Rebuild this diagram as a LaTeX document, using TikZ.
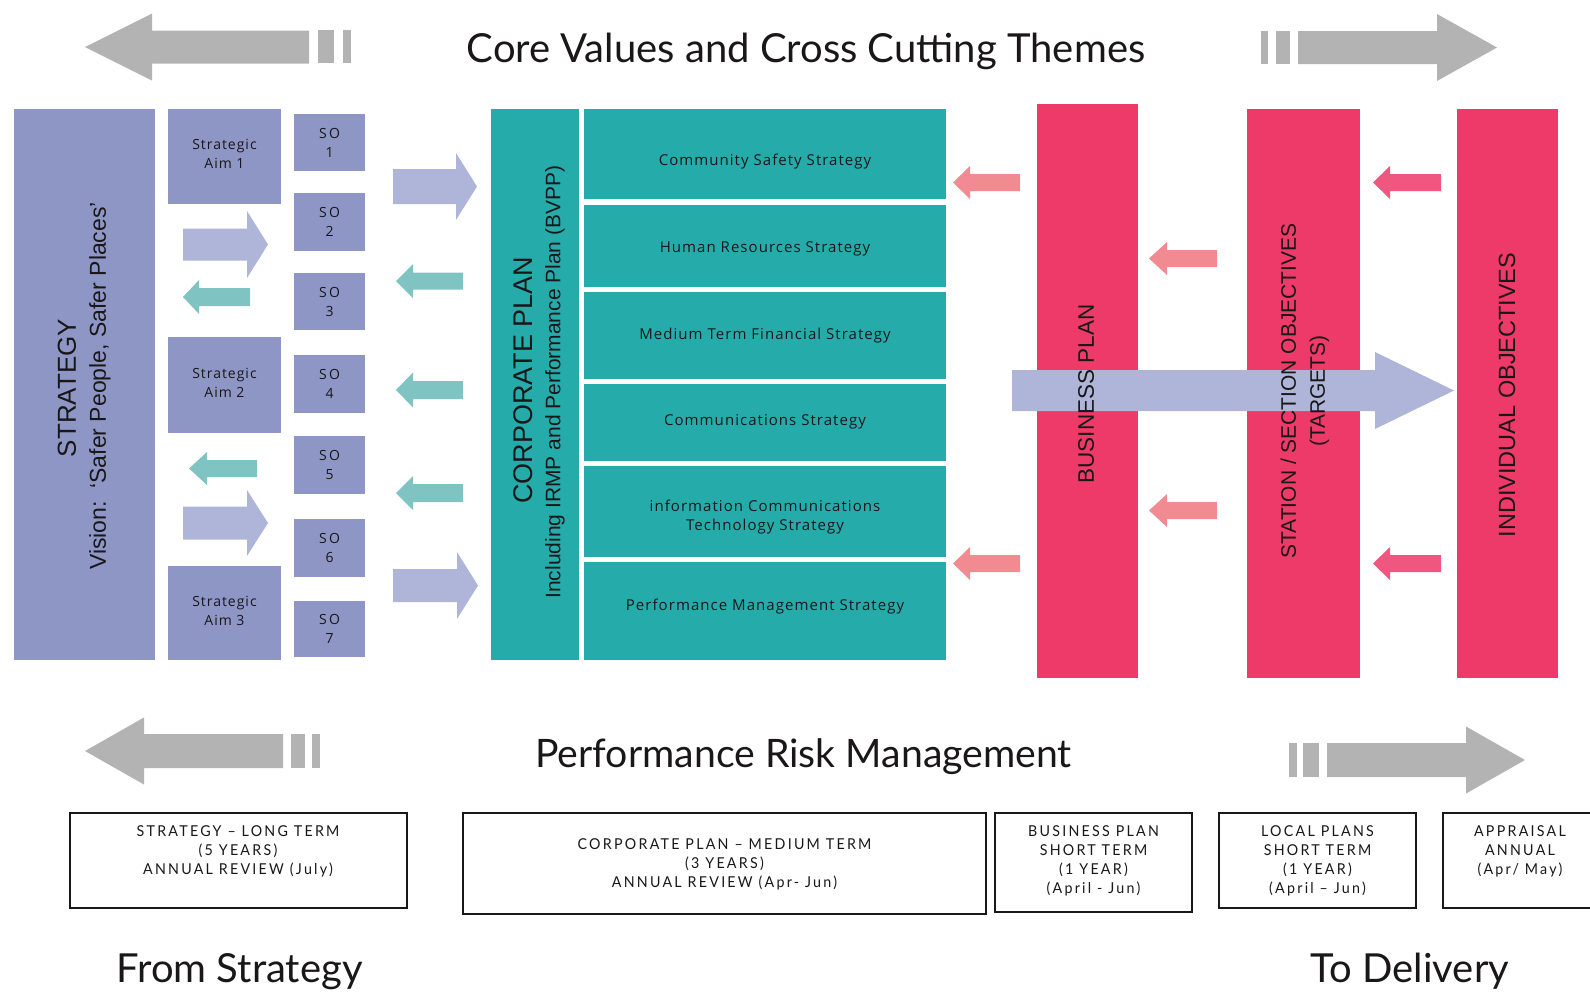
\documentclass[tikz,border=0pt]{standalone}
\usepackage{fontspec}
\setmainfont{Lato}
\newfontfamily\headfont{Lato}
\newfontfamily\labfont[LetterSpace=7]{Open Sans}
\newfontfamily\rotfont{Liberation Sans}
\newfontfamily\termfont[FakeStretch=0.95,LetterSpace=15]{Lato}

\definecolor{stratpurple}{HTML}{8E96C6}
\definecolor{lavender}{HTML}{AEB5D8}
\definecolor{tealbox}{HTML}{26ABAB}
\definecolor{tealarrow}{HTML}{80C3C3}
\definecolor{planred}{HTML}{EE3A68}
\definecolor{pinkarrow}{HTML}{F28B91}
\definecolor{deeppink}{HTML}{EF5780}
\definecolor{greyarrow}{HTML}{B3B3B3}
\definecolor{ink}{HTML}{1A1718}

% block arrow pointing right: style, shaft start, head base, tip, centre y, shaft half height, head half height
\newcommand\blockright[7]{%
  \fill[#1] (#2,#5-#6) -- (#3,#5-#6) -- (#3,#5-#7) -- (#4,#5) -- (#3,#5+#7) -- (#3,#5+#6) -- (#2,#5+#6) -- cycle;}
% block arrow pointing left: style, tip, head base, shaft end, centre y, shaft half height, head half height
\newcommand\blockleft[7]{%
  \fill[#1] (#2,#5) -- (#3,#5-#7) -- (#3,#5-#6) -- (#4,#5-#6) -- (#4,#5+#6) -- (#3,#5+#6) -- (#3,#5+#7) -- cycle;}

\tikzset{
  panel/.style={anchor=north west, inner sep=0pt, outer sep=0pt},
  purplebox/.style={panel, fill=stratpurple, text=ink, align=center,
    font=\labfont\fontsize{14}{19}\selectfont},
  purpletext/.style={text=ink, align=center, inner sep=0pt,
    font=\labfont\fontsize{14}{19}\selectfont},
  tealpanel/.style={panel, fill=tealbox},
  tealtext/.style={text=ink, align=center, inner sep=0pt,
    font=\labfont\fontsize{15}{19}\selectfont},
  redpanel/.style={panel, fill=planred},
  vlabel/.style={rotate=90, text=ink, align=center, inner sep=0pt},
  termbox/.style={panel, draw=ink, line width=1.6pt, fill=white},
  termtext/.style={align=center, text=ink, inner sep=0pt,
    font=\termfont\fontsize{15}{19}\selectfont},
  headline/.style={anchor=base, text=ink, inner sep=0pt,
    font=\headfont\fontsize{40}{44}\selectfont},
}

\begin{document}
\begin{tikzpicture}[x=1pt,y=-1pt]
\useasboundingbox (0,0) rectangle (1590,991);

% ---- top banner ----
\node[headline] (corevalues) at (806,62) {Core Values and Cross Cutting Themes};
\blockleft{greyarrow}{85}{152}{309}{47}{16.5}{33.5}
\fill[greyarrow] (318,30) rectangle (334,63);
\fill[greyarrow] (343,30) rectangle (351,63);
\fill[greyarrow] (1261,31) rectangle (1268,64);
\fill[greyarrow] (1276,31) rectangle (1290,64);
\blockright{greyarrow}{1298}{1437}{1497}{47.5}{16.5}{33.5}

% ---- strategy column ----
\node[purplebox, minimum width=141pt, minimum height=551pt] (strategy) at (14,109) {};
\node[vlabel, font=\rotfont\fontsize{26}{28}\selectfont] (strategylabel) at (67,388) {STRATEGY};
\node[vlabel, font=\rotfont\fontsize{23}{26}\selectfont] (vision) at (100,386) {Vision:\ \ ‘Safer People, Safer Places’};

\node[purplebox, minimum width=113pt, minimum height=95pt] (aim1) at (168,109) {};
\node[purplebox, minimum width=113pt, minimum height=96pt] (aim2) at (168,337) {};
\node[purplebox, minimum width=113pt, minimum height=94pt] (aim3) at (168,566) {};
\node[purpletext] (aim1text) at (224.5,153.5) {Strategic\\Aim 1};
\node[purpletext] (aim2text) at (224.5,382.5) {Strategic\\Aim 2};
\node[purpletext] (aim3text) at (224.5,610.5) {Strategic\\Aim 3};

\node[purplebox, minimum width=71pt, minimum height=57pt] (so1) at (294,114) {S\,O\\1};
\node[purplebox, minimum width=71pt, minimum height=58pt] (so2) at (294,193) {S\,O\\2};
\node[purplebox, minimum width=71pt, minimum height=57pt] (so3) at (294,273) {S\,O\\3};
\node[purplebox, minimum width=71pt, minimum height=58pt] (so4) at (294,355) {S\,O\\4};
\node[purplebox, minimum width=71pt, minimum height=58pt] (so5) at (294,436) {S\,O\\5};
\node[purplebox, minimum width=71pt, minimum height=58pt] (so6) at (294,519) {S\,O\\6};
\node[purplebox, minimum width=71pt, minimum height=56pt] (so7) at (294,601) {S\,O\\7};

% arrows between aims and objectives
\blockright{lavender}{183}{247}{268}{244.5}{16}{33.5}
\blockleft{tealarrow}{183}{199}{250}{297}{9}{17}
\blockleft{tealarrow}{189}{207}{257}{468.5}{8.5}{16.5}
\blockright{lavender}{183}{247}{268}{523}{16.5}{33}

% arrows between objectives and corporate plan
\blockright{lavender}{393}{456}{477}{186.5}{17.5}{33.5}
\blockleft{tealarrow}{396}{413}{463}{281}{8.5}{17}
\blockleft{tealarrow}{396}{413}{463}{390}{9}{17.5}
\blockleft{tealarrow}{396}{413}{463}{493}{9}{17}
\blockright{lavender}{393}{457}{478}{585.5}{16.5}{33.5}

% ---- corporate plan ----
\node[tealpanel, minimum width=88pt, minimum height=551pt] (corporate) at (491,109) {};
\node[vlabel, font=\rotfont\fontsize{27}{29}\selectfont] (corporatelabel) at (523,380) {CORPORATE PLAN};
\node[vlabel, font=\rotfont\fontsize{21}{24}\selectfont] (irmp) at (555,382) {Including IRMP and Performance Plan (BVPP)};

\node[tealpanel, minimum width=362pt, minimum height=90pt] (community) at (584,109) {};
\node[tealpanel, minimum width=362pt, minimum height=82pt] (hr) at (584,205) {};
\node[tealpanel, minimum width=362pt, minimum height=87pt] (finance) at (584,292) {};
\node[tealpanel, minimum width=362pt, minimum height=77pt] (comms) at (584,384) {};
\node[tealpanel, minimum width=362pt, minimum height=91pt] (ict) at (584,466) {};
\node[tealpanel, minimum width=362pt, minimum height=98pt] (performance) at (584,562) {};
\node[tealtext] (communitytext) at (765,162) {Community Safety Strategy};
\node[tealtext] (hrtext) at (765,249) {Human Resources Strategy};
\node[tealtext] (financetext) at (765,336) {Medium Term Financial Strategy};
\node[tealtext] (commstext) at (765,421.5) {Communications Strategy};
\node[tealtext] (icttext) at (765,517) {information Communications\\Technology Strategy};
\node[tealtext] (performancetext) at (765,607) {Performance Management Strategy};

% ---- delivery columns ----
\node[redpanel, minimum width=101pt, minimum height=574pt] (business) at (1037,104) {};
\node[redpanel, minimum width=113pt, minimum height=569pt] (station) at (1247,109) {};
\node[redpanel, minimum width=101pt, minimum height=569pt] (individual) at (1457,109) {};

\blockleft{pinkarrow}{953}{970}{1020}{182.5}{8.5}{16.5}
\blockleft{pinkarrow}{953}{970}{1020}{563.5}{8.5}{16.5}
\blockleft{pinkarrow}{1149}{1167}{1217}{258.5}{8.5}{16.5}
\blockleft{pinkarrow}{1149}{1167}{1217}{510.5}{8.5}{16.5}
\blockleft{deeppink}{1373}{1390}{1441}{182.5}{8.5}{16.5}
\blockleft{deeppink}{1373}{1390}{1441}{563.5}{8.5}{16.5}

\blockright{lavender}{1012}{1375}{1454}{390.5}{20.5}{38.5}

\node[vlabel, font=\rotfont\fontsize{22.5}{25}\selectfont] (businesslabel) at (1086,394) {BUSINESS PLAN};
\node[vlabel, font=\rotfont\fontsize{21}{29}\selectfont] (stationlabel) at (1305,391) {STATION / SECTION OBJECTIVES\\(TARGETS)};
\node[vlabel, font=\rotfont\fontsize{23.5}{26}\selectfont] (individuallabel) at (1507,395) {INDIVIDUAL OBJECTIVES};

% ---- risk management banner ----
\node[headline, font=\headfont\fontsize{39.2}{44}\selectfont] (risk) at (803.5,767) {Performance Risk Management};
\blockleft{greyarrow}{85}{144}{283}{751}{17}{33.5}
\fill[greyarrow] (291,734) rectangle (305,768);
\fill[greyarrow] (312,734) rectangle (320,768);
\fill[greyarrow] (1289,743) rectangle (1297,777);
\fill[greyarrow] (1303,743) rectangle (1319,777);
\blockright{greyarrow}{1327}{1466}{1525}{760}{17}{33.5}

% ---- planning horizons ----
\node[termbox, minimum width=337pt, minimum height=95pt] (longterm) at (70,813) {};
\node[termtext] (longtermtext) at (238,851) {STRATEGY – LONG TERM\\(5 YEARS)\\ANNUAL REVIEW (July)};
\node[termbox, minimum width=523pt, minimum height=101pt] (mediumterm) at (463,813) {};
\node[termtext] (mediumtermtext) at (724.5,864) {CORPORATE PLAN – MEDIUM TERM\\(3 YEARS)\\ANNUAL REVIEW (Apr- Jun)};
\node[termbox, minimum width=197pt, minimum height=99pt] (shortterm) at (995,813) {};
\node[termtext] (shorttermtext) at (1093.5,860.5) {BUSINESS PLAN\\SHORT TERM\\(1 YEAR)\\(April - Jun)};
\node[termbox, minimum width=197pt, minimum height=95pt] (localterm) at (1219,813) {};
\node[termtext] (localtermtext) at (1317.5,860.5) {LOCAL PLANS\\SHORT TERM\\(1 YEAR)\\(April – Jun)};
\node[termbox, minimum width=160pt, minimum height=95pt] (appraisal) at (1443,813) {};
\node[termtext] (appraisaltext) at (1520,851) {APPRAISAL\\ANNUAL\\(Apr/ May)};

% ---- direction captions ----
\node[headline] (fromstrategy) at (239.5,982) {From Strategy};
\node[headline] (todelivery) at (1410,982) {To Delivery};
\end{tikzpicture}
\end{document}
